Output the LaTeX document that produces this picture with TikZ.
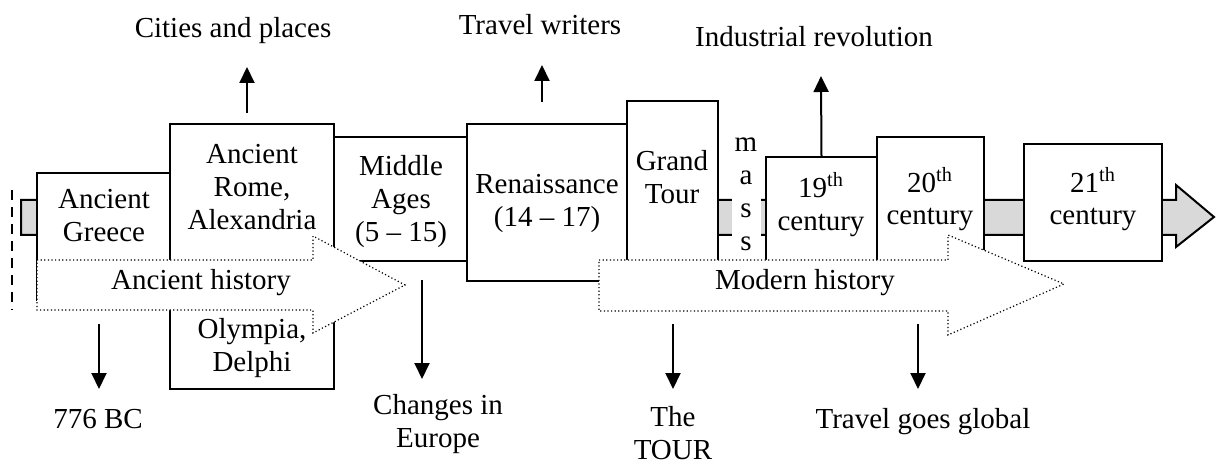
\documentclass[tikz,border=0pt]{standalone}
\usepackage{fontspec}
\setmainfont{Liberation Serif}
\usetikzlibrary{arrows.meta,fit}
\begin{document}
\begin{tikzpicture}[x=0.5pt,y=-0.5pt,
  every node/.style={font=\fontsize{14.5}{16.5}\selectfont, inner sep=0pt, align=center},
  box/.style={draw, line width=1pt, fill=white, inner sep=0pt},
  hist/.style={draw, fill=white, line width=0.6pt, dash pattern=on 0.6pt off 1.2pt},
  shaft/.style={draw, fill=gray!30, line width=1pt},
  arr/.style={line width=1pt, -{Triangle[length=8pt,width=7.5pt]}},
  lbl/.style={anchor=base}]
\useasboundingbox (0,0) rectangle (1217,465);
% dashed separator
\coordinate (dtop) at (12,190);
\coordinate (dbot) at (12,310);
\draw[line width=1pt, dash pattern=on 5pt off 3.5pt] (dtop) -- (dbot);
% gray time shaft
\draw[shaft] (21,200) -- (1176,200) -- (1176,185) -- (1214,217) -- (1176,247) -- (1176,235) -- (21,235) -- cycle;
% period boxes
\node[box, fit={(37,173) (170,300)}] (greece) {};
\node[box, fit={(170,124) (334,389)}] (rome) {};
\node[box, fit={(334,137) (467,261)}] (middle) {};
\node[box, fit={(467,124) (627,281)}] (ren) {};
\node[box, fit={(627,101) (718,300)}] (grand) {};
\node[box, fit={(766,157) (877,300)}] (nineteen) {};
\node[box, fit={(877,137) (984,300)}] (twenty) {};
\node[box, fit={(1024,144) (1162,261)}] (twentyone) {};
% history arrows
\draw[hist] (37,260) -- (313,260) -- (313,236) -- (405,285) -- (313,333) -- (313,310) -- (37,310) -- cycle;
\draw[hist] (599,260) -- (948,260) -- (948,235) -- (1064,284) -- (948,335) -- (948,311) -- (599,311) -- cycle;
\node[lbl] (anch) at (201,290) {Ancient history};
\node[lbl] (modh) at (805,290) {Modern history};
% mass
\node[fill=white, minimum width=14.5pt, anchor=base] (mass) at (746,250) {m\\a\\s\\s};
% box texts
\node[lbl] (tgreece) at (104,242) {Ancient\\Greece};
\node[lbl] (trome) at (252,229) {Ancient\\Rome,\\Alexandria};
\node[lbl] (tolym) at (252,371) {Olympia,\\Delphi};
\node[lbl] (tmiddle) at (401,242) {Middle\\Ages\\(5 -- 15)};
\node[lbl] (tren) at (547,227) {Renaissance\\(14 -- 17)};
\node[lbl] (tgrand) at (672,204) {Grand\\Tour};
\node[lbl] (t19) at (821,230) {19\textsuperscript{th}\\century};
\node[lbl] (t20) at (930,225) {20\textsuperscript{th}\\century};
\node[lbl] (t21) at (1093,225) {21\textsuperscript{th}\\century};
% top labels
\node[lbl] (cities) at (233,38) {Cities and places};
\node[lbl] (writers) at (540,35) {Travel writers};
\node[lbl] (indus) at (814,47) {Industrial revolution};
% bottom labels
\node[lbl] (bc) at (98,428) {776 BC};
\node[lbl] (changes) at (438,447) {Changes in\\Europe};
\node[lbl] (tour) at (673,459) {The\\TOUR};
\node[lbl] (global) at (923,428) {Travel goes global};
% arrows
\coordinate (a1s) at (247,113); \coordinate (a1e) at (247,67);
\coordinate (a2s) at (542,102); \coordinate (a2e) at (542,65);
\coordinate (a3e) at (821,76);
\coordinate (b1s) at (99,324); \coordinate (b1e) at (99,389);
\coordinate (b2s) at (422,280); \coordinate (b2e) at (422,379);
\coordinate (b3s) at (673,324); \coordinate (b3e) at (673,389);
\coordinate (b4s) at (918,324); \coordinate (b4e) at (918,389);
\draw[arr] (a1s) -- (a1e);
\draw[arr] (a2s) -- (a2e);
\draw[arr] (nineteen.north) -- (a3e);
\draw[arr] (b1s) -- (b1e);
\draw[arr] (b2s) -- (b2e);
\draw[arr] (b3s) -- (b3e);
\draw[arr] (b4s) -- (b4e);
\end{tikzpicture}
\end{document}
